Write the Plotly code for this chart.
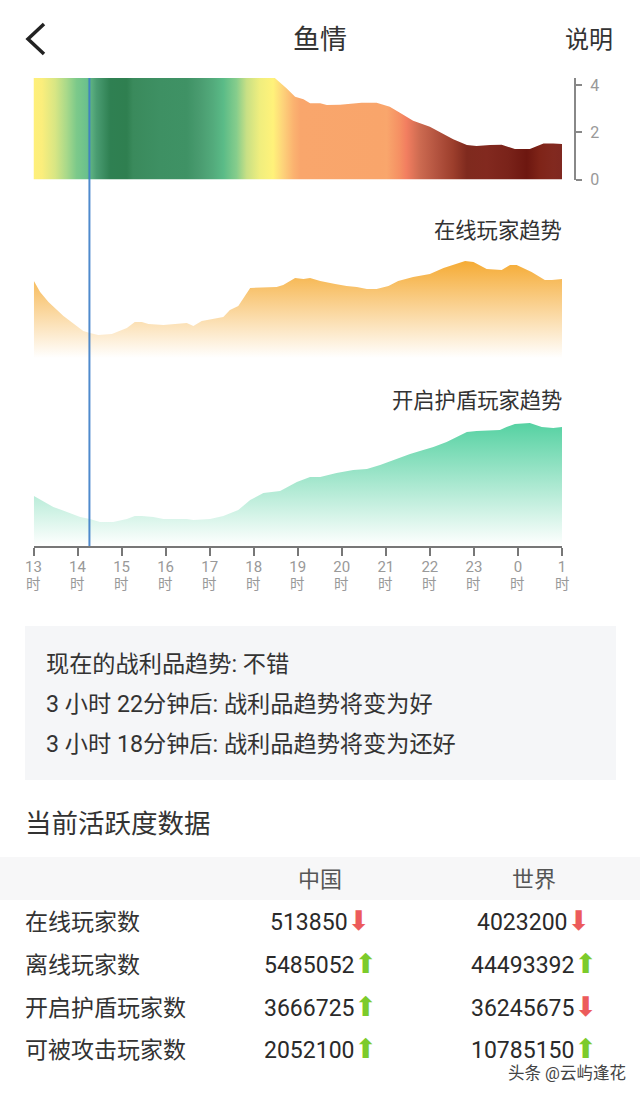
import plotly.graph_objects as go
from plotly.subplots import make_subplots

# loot trend (top band)
loot_hours = [0, 5.48, 5.75, 5.94, 6.13, 6.28, 6.51, 6.66, 6.96, 7.26, 7.45, 7.79, 8.09, 8.32, 8.62, 9.00, 9.23,
              9.53, 9.84, 10.06, 10.37, 10.63, 10.93, 11.27, 11.58, 11.80, 12]
loot_values = [4.3, 4.3, 3.86, 3.51, 3.40, 3.23, 3.23, 3.16, 3.17, 3.20, 3.25, 3.25, 3.08, 2.83, 2.49, 2.24, 2.0,
               1.70, 1.46, 1.42, 1.46, 1.47, 1.29, 1.29, 1.52, 1.53, 1.50]
loot_color_hours = [0, 0.19, 0.49, 0.75, 0.98, 1.21, 1.43, 1.74, 2.12, 2.26, 2.87, 3.48, 3.78, 4.08, 4.31, 4.61,
                    4.84, 5.14, 5.44, 5.67, 5.90, 6.06, 7.87, 8.02, 8.32, 8.47, 8.78, 9.16, 9.53, 9.84, 10.29,
                    10.78, 11.2, 11.5, 11.8, 12]
loot_colors = ['#fff07a', '#fbee7c', '#d8e684', '#a9d98a', '#7cc98a', '#6bc18c', '#4a9c72', '#2f8052', '#2f7f50',
               '#3a8a5c', '#3e9063', '#3f9265', '#4a9c70', '#53ab7c', '#5abb87', '#86cd8c', '#c8e085', '#f0ee7e',
               '#fff27a', '#fdd27a', '#fbb370', '#f9a66c', '#f9a56b', '#f9a66c', '#f58f63', '#f27e60', '#cc6a50',
               '#b3533f', '#9c3e2c', '#7f2a1e', '#82291f', '#7a231a', '#6d1710', '#7f2418', '#82291f', '#7f2820']
loot_ticks = [0, 2, 4]

# online players trend
online_hours = [0.01, 0.15, 0.34, 0.53, 0.68, 0.83, 0.98, 1.13, 1.28, 1.47, 1.78, 1.96, 2.12, 2.30, 2.46, 2.61, 2.95,
                3.48, 3.63, 3.82, 4.05, 4.31, 4.46, 4.65, 4.92, 5.52, 5.67, 5.94, 6.13, 6.28, 6.51, 6.66, 6.85, 7.11,
                7.34, 7.57, 7.79, 8.06, 8.28, 8.62, 8.85, 9.00, 9.31, 9.61, 9.80, 9.99, 10.29, 10.63, 10.82, 10.97,
                11.20, 11.31, 11.61, 11.77, 12]
online_values = [77, 66, 56, 48, 42, 37, 32, 27, 25, 23, 24, 27, 30, 36, 36, 34, 33,
                 35, 32, 37, 39, 41, 48, 52, 70, 71, 73, 80, 79, 80, 77, 76, 74, 72,
                 71, 69, 69, 72, 77, 81, 83, 84, 90, 94, 97, 96, 89, 88, 93, 93,
                 88, 86, 78, 78, 79]

# shield players trend
shield_hours = [0.01, 0.22, 0.45, 0.64, 0.83, 1.06, 1.28, 1.51, 1.81, 2.12, 2.30, 2.46, 2.72, 2.95, 3.48, 3.63, 4.01,
                4.31, 4.65, 4.92, 5.22, 5.60, 5.98, 6.28, 6.51, 6.88, 7.26, 7.57, 7.87, 8.17, 8.55, 8.85, 9.08, 9.38,
                9.61, 9.84, 10.06, 10.59, 10.74, 10.93, 11.27, 11.54, 11.80, 12]
shield_values = [50, 45, 39, 36, 33, 29, 27, 24, 24, 27, 30, 30, 29, 27, 27, 26, 27,
                 30, 36, 46, 53, 55, 64, 69, 69, 73, 76, 77, 81, 86, 92, 96, 99, 104,
                 109, 114, 115, 116, 119, 122, 123, 119, 118, 119]

tick_hours = list(range(13))
tick_labels = ['13', '14', '15', '16', '17', '18', '19', '20', '21', '22', '23', '0', '1']
now_hour = 1.27

loot_text = ['现在的战利品趋势: 不错', '3 小时 22分钟后: 战利品趋势将变为好', '3 小时 18分钟后: 战利品趋势将变为还好']

table_rows = ['在线玩家数', '离线玩家数', '开启护盾玩家数', '可被攻击玩家数']
china_counts = [513850, 5485052, 3666725, 2052100]
china_dirs = ['down', 'up', 'up', 'up']
world_counts = [4023200, 44493392, 36245675, 10785150]
world_dirs = ['down', 'up', 'down', 'up']

FONT = 'Roboto, "Noto Sans CJK SC"'
W, H = 640, 1096


def px(x):
    return x / W


def py(y):
    return 1 - y / H


def label(x, y, text, size, color='#333', anchor='left', family=FONT):
    fig.add_annotation(x=px(x), y=py(y), xref='paper', yref='paper', text=text, showarrow=False,
                       xanchor=anchor, yanchor='middle', font=dict(size=size, color=color, family=family))


def count_text(count, direction):
    color = '#ec5b5b' if direction == 'down' else '#7ccb2b'
    arrow = '⬇' if direction == 'down' else '⬆'
    return f'{count}<span style="color:{color};font-family:DejaVu Sans;font-size:27px">{arrow}</span>'


fig = make_subplots(rows=3, cols=1, shared_xaxes=True)

stops = [[h / 12, c] for h, c in zip(loot_color_hours, loot_colors)]
fig.add_trace(go.Scatter(
    x=loot_hours,
    y=loot_values,
    mode='lines',
    line=dict(width=0),
    fill='tozeroy',
    fillgradient=dict(type='horizontal', colorscale=stops, start=0, stop=12)
), row=1, col=1)

fig.add_trace(go.Scatter(
    x=online_hours,
    y=online_values,
    mode='lines',
    line=dict(width=0),
    fill='tozeroy',
    fillgradient=dict(type='vertical', colorscale=[[0, 'rgba(245,170,50,1)'], [1, 'rgba(245,170,50,0)']],
                      start=98, stop=0)
), row=2, col=1)

fig.add_trace(go.Scatter(
    x=shield_hours,
    y=shield_values,
    mode='lines',
    line=dict(width=0),
    fill='tozeroy',
    fillgradient=dict(type='vertical', colorscale=[[0, 'rgba(84,209,161,1)'], [1, 'rgba(84,209,161,0)']],
                      start=124, stop=0)
), row=3, col=1)

x_domain = [px(33.5), px(562)]
fig.update_xaxes(domain=x_domain, range=[0, 12], showgrid=False, zeroline=False, visible=False, row=1, col=1)
fig.update_xaxes(domain=x_domain, range=[0, 12], showgrid=False, zeroline=False, visible=False, row=2, col=1)
fig.update_xaxes(domain=x_domain, range=[0, 12], showgrid=False, zeroline=False, visible=True, row=3, col=1,
                 showline=True, linecolor='#777', linewidth=2, ticks='outside', ticklen=8, tickwidth=2,
                 tickcolor='#777', tickvals=tick_hours, ticktext=tick_labels, ticklabelstandoff=-2,
                 tickangle=0, tickfont=dict(size=15, color='#999', family=FONT))

fig.update_yaxes(domain=[py(179.5), py(78)], range=[0, 4.3], showgrid=False, zeroline=False, anchor='free',
                 position=px(575), side='right', showline=True, linecolor='#888', linewidth=2, ticks='outside',
                 ticklen=6, tickwidth=2, tickcolor='#888', tickvals=loot_ticks, ticklabelstandoff=5,
                 tickfont=dict(size=16, color='#999', family=FONT), row=1, col=1)
fig.update_yaxes(domain=[py(358), py(258)], range=[0, 100], visible=False, showgrid=False, zeroline=False,
                 row=2, col=1)
fig.update_yaxes(domain=[py(546), py(421)], range=[0, 125], visible=False, showgrid=False, zeroline=False,
                 row=3, col=1)

# second line of the hour labels, tick text line height is too loose for this
for h in tick_hours:
    fig.add_annotation(x=h, y=py(585), xref='x3', yref='paper', text='时', showarrow=False,
                       xanchor='center', yanchor='middle', font=dict(size=14.5, color='#999', family=FONT))

# current time marker
fig.add_shape(type='line', x0=now_hour, x1=now_hour, y0=py(546), y1=py(78), xref='x3', yref='paper',
              line=dict(color='rgba(60,125,200,0.9)', width=2))

# header
fig.add_shape(type='path', xref='paper', yref='paper',
              path=f'M {px(44)} {py(24)} L {px(28)} {py(39)} L {px(44)} {py(54)}',
              line=dict(color='#222', width=3.5))
label(320, 40, '鱼情', 27, anchor='center')
label(589, 40, '说明', 24, anchor='center')

label(564, 230, '在线玩家趋势', 21.3, anchor='right')
label(564, 400, '开启护盾玩家趋势', 21.3, anchor='right')

# loot panel
fig.add_shape(type='rect', xref='paper', yref='paper', x0=px(25), x1=px(616), y0=py(780), y1=py(626),
              fillcolor='#f5f6f8', line=dict(width=0), layer='below')
for y, text in zip([664, 704, 744], loot_text):
    label(44, y, text, 23.2)

# table
label(23, 823, '当前活跃度数据', 26.5)
fig.add_shape(type='rect', xref='paper', yref='paper', x0=0, x1=1, y0=py(900), y1=py(857),
              fillcolor='#f7f7f8', line=dict(width=0), layer='below')
label(320, 879, '中国', 22, color='#555', anchor='center')
label(534, 879, '世界', 22, color='#555', anchor='center')
for y, row, c, cd, w, wd in zip([922, 965, 1008, 1050], table_rows, china_counts, china_dirs, world_counts, world_dirs):
    label(23, y, row, 23)
    label(320, y - 1.5, count_text(c, cd), 23, color='#2a2a2a', anchor='center')
    label(533.5, y - 1.5, count_text(w, wd), 23, color='#2a2a2a', anchor='center')

label(628, 1073, '头条 @云屿逢花', 16.5, color='#444', anchor='right')

fig.update_layout(width=W, height=H, margin=dict(l=0, r=0, t=0, b=0, autoexpand=False), showlegend=False,
                  paper_bgcolor='white', plot_bgcolor='white', font=dict(family=FONT))

fig.write_html("out.html", config=dict(displayModeBar=False),
               post_script="document.body.style.margin='0';")
